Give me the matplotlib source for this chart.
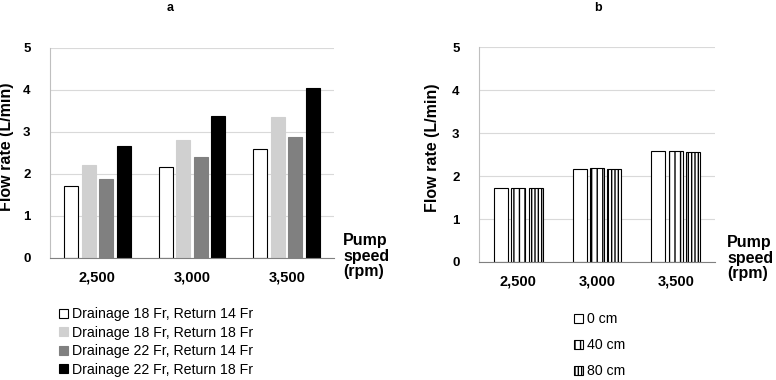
import matplotlib.pyplot as plt
import numpy as np
from matplotlib.patches import Patch

plt.rcParams['font.family'] = ['Liberation Sans', 'DejaVu Sans']
plt.rcParams['hatch.linewidth'] = 1.0

speeds = ['2,500', '3,000', '3,500']

# panel a: cannula combinations
labels_a = ['Drainage 18 Fr, Return 14 Fr', 'Drainage 18 Fr, Return 18 Fr',
            'Drainage 22 Fr, Return 14 Fr', 'Drainage 22 Fr, Return 18 Fr']
d18_r14 = [1.71, 2.16, 2.58]
d18_r18 = [2.20, 2.81, 3.35]
d22_r14 = [1.87, 2.39, 2.88]
d22_r18 = [2.67, 3.37, 4.05]
colors_a = ['white', '#d0d0d0', '#808080', 'black']

# panel b: height difference
labels_b = ['0 cm', '40 cm', '80 cm']
h0 = [1.72, 2.16, 2.58]
h40 = [1.72, 2.19, 2.59]
h80 = [1.72, 2.16, 2.56]
hatches_b = ['', '|||', '|||||']

W, H = 776, 380
fig = plt.figure(figsize=(W / 100, H / 100), dpi=100)


def px(l, r, t, b):
    return [l / W, 1 - b / H, (r - l) / W, (b - t) / H]


def style_axes(ax, lab_x):
    ax.set_ylim(0, 5)
    ax.set_xlim(-0.5, 2.5)
    ax.set_yticks(range(6))
    ax.yaxis.grid(True, color='#d9d9d9', lw=0.8)
    ax.set_axisbelow(True)
    for s in ['top', 'right']:
        ax.spines[s].set_visible(False)
    ax.spines['left'].set_color('#bfbfbf')
    ax.spines['bottom'].set_color('#808080')
    ax.tick_params(axis='y', length=0, labelsize=9.5, pad=14)
    ax.tick_params(axis='x', length=0, labelsize=10.5, pad=9)
    for lab in ax.get_xticklabels() + ax.get_yticklabels():
        lab.set_fontweight('bold')
    ax.set_ylabel('Flow rate (L/min)', fontsize=11.5, fontweight='bold')
    ax.yaxis.set_label_coords(lab_x, 0.53)


x = np.arange(3)

# ---- a
ax1 = fig.add_axes(px(50, 334, 47.7, 258))
series_a = [d18_r14, d18_r18, d22_r14, d22_r18]
w = 0.148
step = 0.185
for i, vals in enumerate(series_a):
    ec = 'black' if i == 0 else colors_a[i]
    ax1.bar(x + (i - 1.5) * step, vals, w, color=colors_a[i], edgecolor=ec, lw=0.8)
ax1.set_xticks(x, speeds)
style_axes(ax1, -0.125)
fig.text(170 / W, 1 - 8 / H, 'a', ha='center', va='center', fontsize=9, fontweight='bold')
fig.text(343 / W, 1 - 256 / H, 'Pump\nspeed\n(rpm)', ha='left', va='center',
         fontsize=11.5, fontweight='bold', linespacing=1.02)
h_a = [Patch(facecolor=c, edgecolor='black' if i == 0 else c, lw=0.8) for i, c in enumerate(colors_a)]
fig.legend(h_a, labels_a, loc='upper left', bbox_to_anchor=(52 / W, 1 - 300 / H),
           frameon=False, fontsize=10.2, handlelength=0.6, handleheight=0.6,
           handletextpad=0.3, labelspacing=0.32, borderpad=0)

# ---- b
ax2 = fig.add_axes(px(479, 715, 47.3, 262))
series_b = [h0, h40, h80]
w = 0.178
step = 0.222
for i, vals in enumerate(series_b):
    ax2.bar(x + (i - 1) * step, vals, w, color='white', edgecolor='black',
            hatch=hatches_b[i], lw=0.8)
ax2.set_xticks(x, speeds)
style_axes(ax2, -0.165)
fig.text(598 / W, 1 - 8 / H, 'b', ha='center', va='center', fontsize=9, fontweight='bold')
fig.text(727 / W, 1 - 258 / H, 'Pump\nspeed\n(rpm)', ha='left', va='center',
         fontsize=11.5, fontweight='bold', linespacing=1.02)
h_b = [Patch(facecolor='white', edgecolor='black', hatch=hb, lw=0.8) for hb in hatches_b]
fig.legend(h_b, labels_b, loc='upper left', bbox_to_anchor=(567 / W, 1 - 305 / H),
           frameon=False, fontsize=10.2, handlelength=0.6, handleheight=0.6,
           handletextpad=0.3, labelspacing=0.85, borderpad=0)

fig.savefig('out.png', dpi=100)
